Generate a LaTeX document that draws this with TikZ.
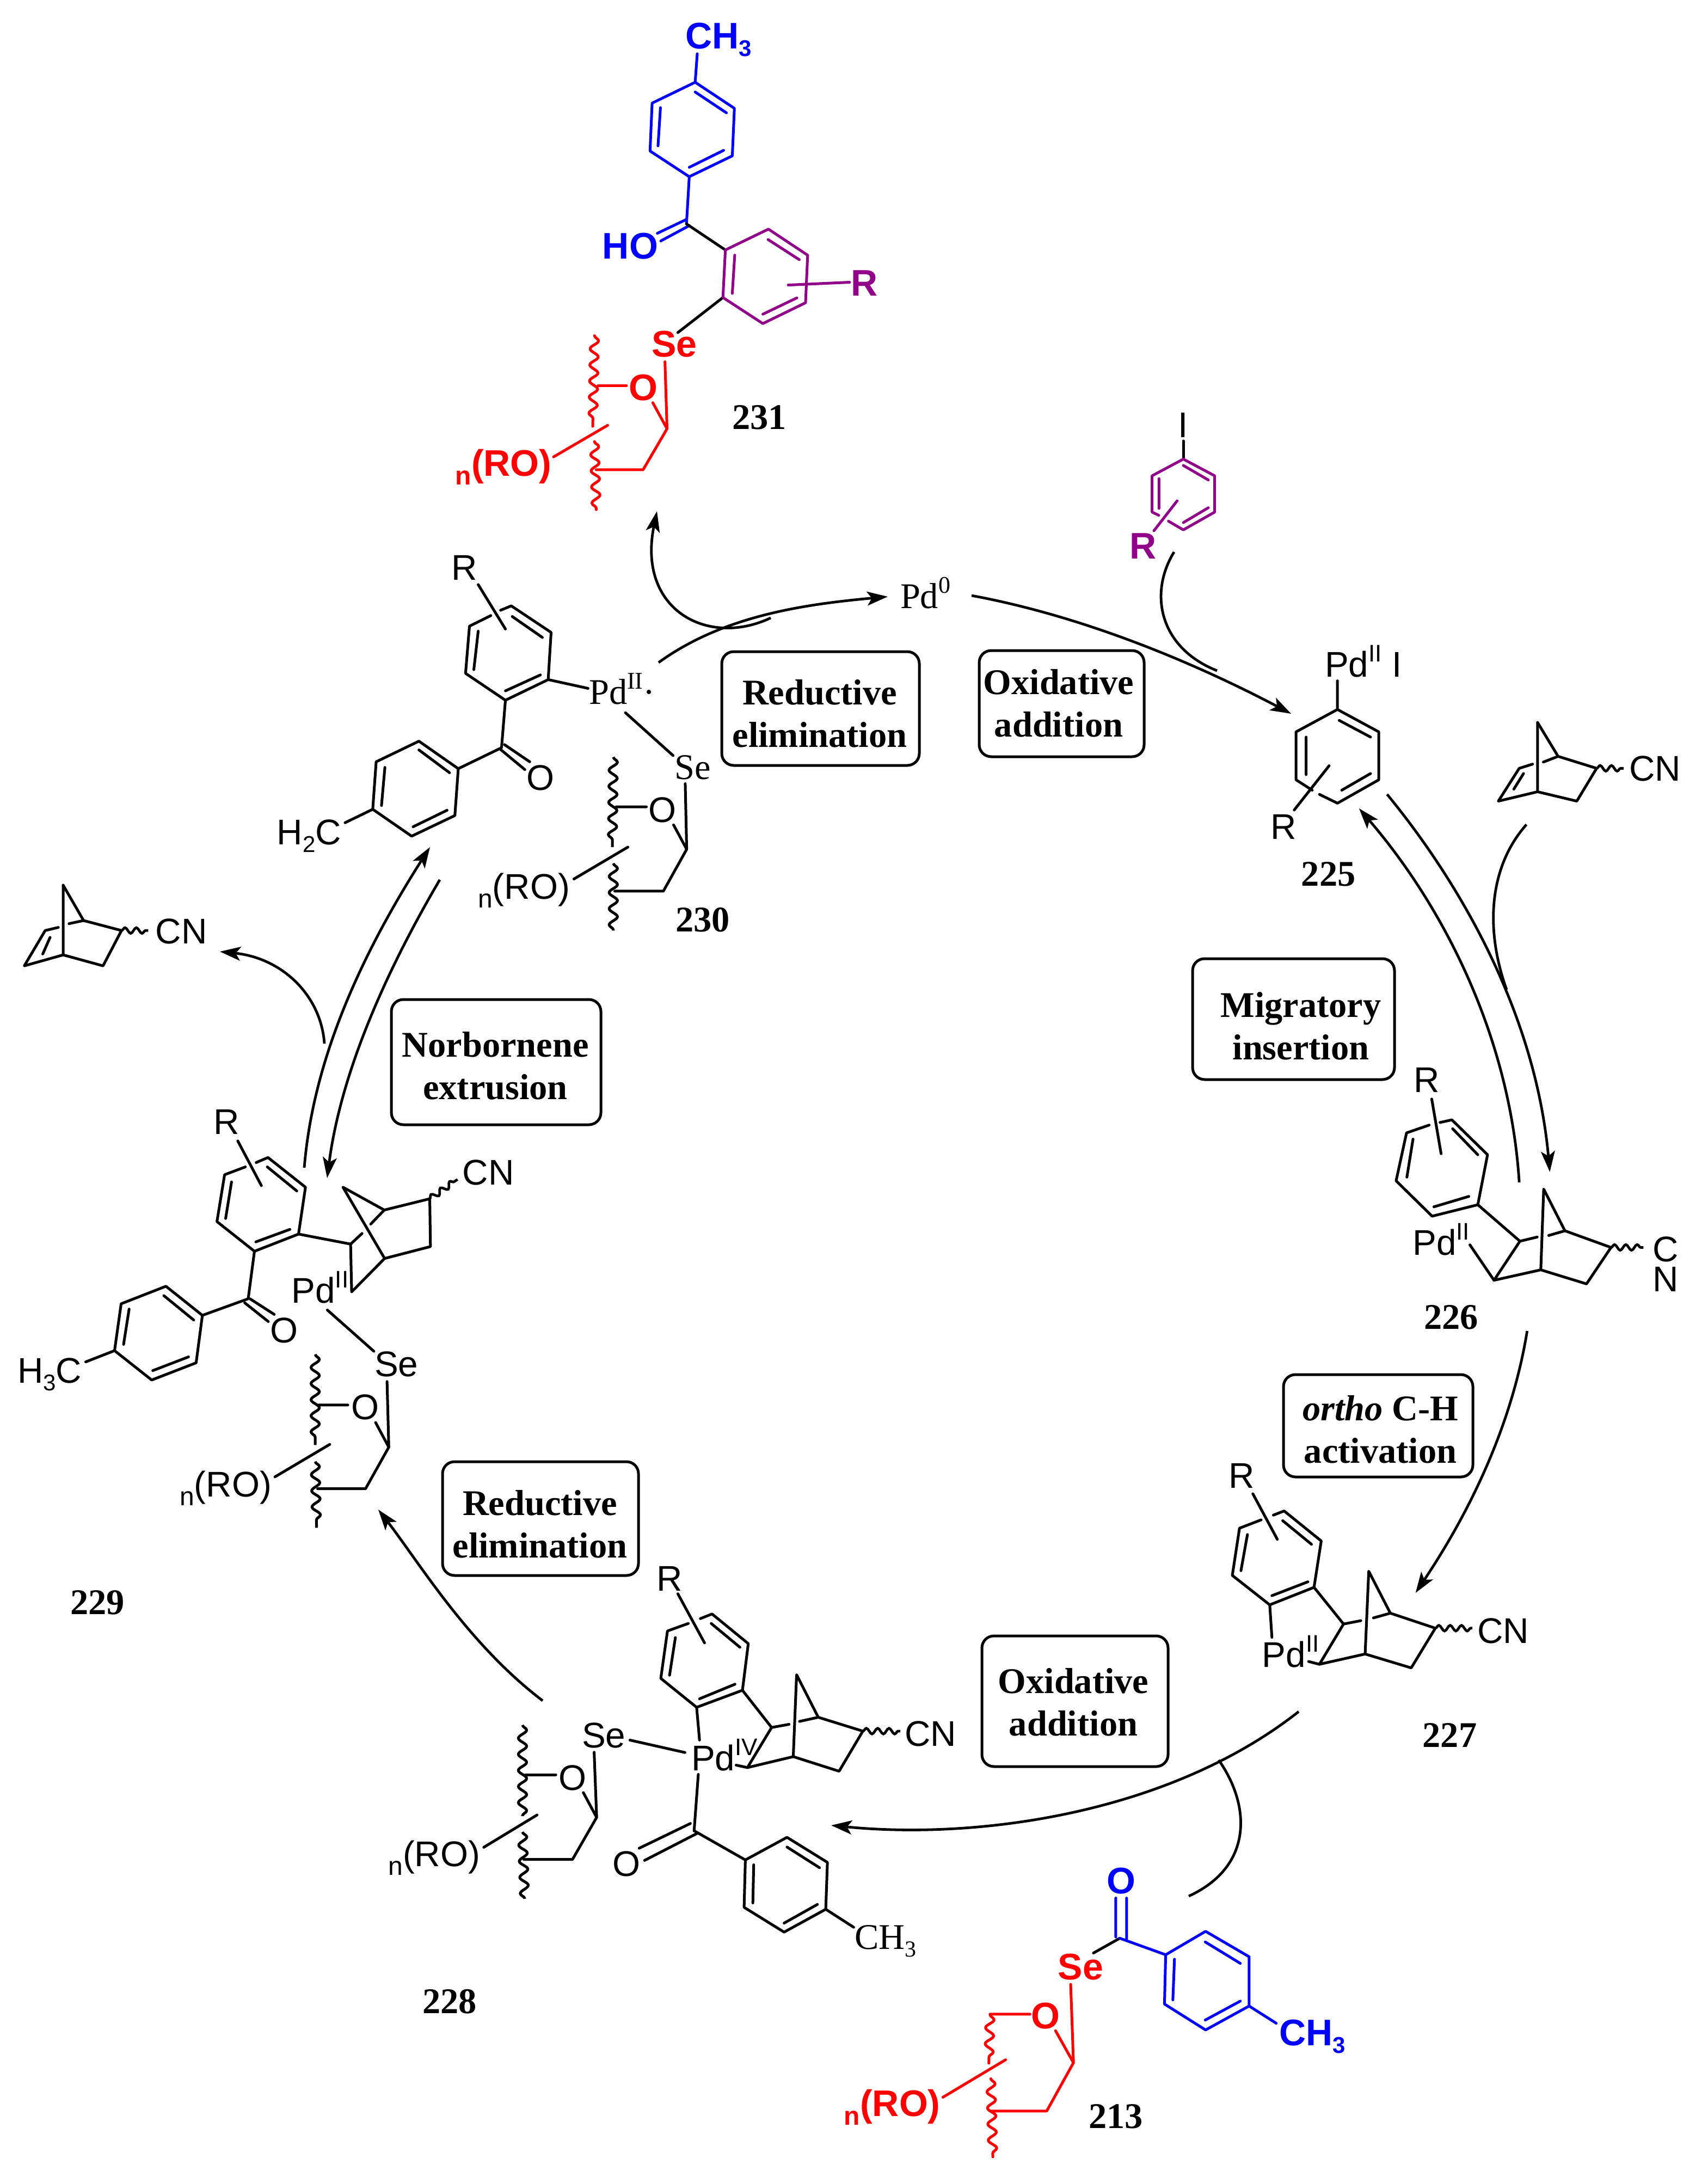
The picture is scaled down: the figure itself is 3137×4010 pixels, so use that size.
\documentclass[tikz,border=0pt]{standalone}
\usepackage{fontspec}
\setmainfont{Liberation Serif}
\setsansfont{Liberation Sans}
\usetikzlibrary{arrows.meta,decorations.pathmorphing}
\definecolor{cblue}{RGB}{0,0,255}
\definecolor{cred}{RGB}{255,0,0}
\definecolor{cpurple}{RGB}{144,0,136}
\newcommand\sbs[1]{\raisebox{-3.6pt}{\fontsize{10.5}{10.5}\selectfont #1}}
\newcommand\sps[1]{\raisebox{7pt}{\fontsize{11}{11}\selectfont #1}}
\newcommand\nRO{\raisebox{-4pt}{\fontsize{12}{12}\selectfont n}(RO)}
\tikzset{
 bond/.style={line width=1.25pt,line join=round,line cap=round},
 wavyL/.style={line width=1.25pt,decorate,decoration={snake,segment length=7.4pt,amplitude=1.9pt}},
 wavyS/.style={line width=1.2pt,decorate,decoration={snake,segment length=5.2pt,amplitude=1.3pt}},
 atom/.style={font=\sffamily\fontsize{16.4}{17}\selectfont,inner sep=0pt,text height=11.7pt,text depth=0pt},
 batom/.style={font=\sffamily\bfseries\fontsize{17}{18}\selectfont,inner sep=0pt,text height=12.1pt,text depth=0pt},
 satom/.style={font=\rmfamily\fontsize{16.6}{17}\selectfont,inner sep=0pt,text height=11pt,text depth=0pt},
 cpd/.style={font=\rmfamily\bfseries\fontsize{16.6}{18}\selectfont,inner sep=0pt,text height=11.2pt,text depth=0pt},
 steptext/.style={font=\rmfamily\bfseries\fontsize{16.6}{19.5}\selectfont,align=center,inner sep=0pt},
 stepbox/.style={line width=1.25pt,rounded corners=5.5pt},
 curve/.style={line width=1.2pt},
 arr/.style={line width=1.2pt,-{Stealth[length=9.5pt,width=6.4pt,inset=2.2pt]}},
 cropa/.style={shift={(700,0)},xscale=.63776,yscale=.63776},
 cropb/.style={shift={(0,900)},xscale=.89286,yscale=.57398},
 cropc/.style={shift={(0,2000)},xscale=.63776,yscale=.57398},
 cropd/.style={shift={(2100,1000)},xscale=.66135,yscale=.95663},
 crope/.style={shift={(2100,2500)},xscale=.66135,yscale=.5102},
 cropf/.style={shift={(650,2950)},xscale=.7653,yscale=.44643},
 cropg/.style={shift={(1450,3300)},xscale=.73342,yscale=.45281},
 croph/.style={shift={(1950,750)},xscale=.33333,yscale=.33333},
 cropi/.style={shift={(1300,1000)},xscale=.54209,yscale=.33333},
}
\begin{document}
\begin{tikzpicture}[x=0.25pt,y=-0.25pt]
\useasboundingbox (0,0) rectangle (3137,4010);

%% 231
\begin{scope}[cropa]
 \begin{scope}[cblue,bond]
 \draw (905,237)--(1018,312)--(1012,449)--(888,509)--(775,435)--(781,297)--cycle;
 \draw (905,265)--(995,325) (987,433)--(888,482) (798,420)--(805,310);
 \draw (905,237)--(911,155) (888,509)--(880,645);
 \draw (880,632)--(796,672) (888,650)--(806,694);
 \end{scope}
 \draw[bond] (880,645)--(992,720) (985,857)--(855,958);
 \begin{scope}[cpurple,bond]
 \draw (992,720)--(1116,660)--(1229,735)--(1223,872)--(1100,932)--(985,857)--cycle;
 \draw (1019,735)--(1012,845) (1115,690)--(1205,748) (1198,858)--(1100,905);
 \draw (1173,821)--(1350,813);
 \end{scope}
 \begin{scope}[cred,bond]
 \draw (818,1042)--(824,1235)--(783,1160);
 \draw (625,1111)--(707,1111);
 \draw (824,1235)--(755,1353)--(620,1353);
 \draw (497,1316)--(653,1225);
 \draw[wavyL] (615,967)--(610,1228);
 \draw[wavyL] (615,1272)--(620,1468);
 \end{scope}
 \node[batom,cblue] (a1) at (972,102) {CH\sbs{3}};
 \node[batom,cblue] (a2) at (718,708) {HO};
 \node[batom,cpurple] (a3) at (1392,814) {R};
 \node[batom,cred] (a4) at (845,990) {Se};
 \node[batom,cred] (a5) at (755,1115) {O};
 \node[batom,cred] (a6) at (353,1334) {\nRO};
 \node[cpd] (a7) at (1090,1202) {231};
\end{scope}

%% iodoarene
\begin{scope}[croph]
 \draw[bond] (672,180)--(672,280);
 \begin{scope}[cpurple,bond]
 \draw (537,590)--(500,572)--(500,372)--(672,280)--(845,372)--(845,572)--(672,670)--(590,622);
 \draw (672,315)--(810,395) (810,548)--(672,630) (538,388)--(538,552);
 \draw (510,675)--(638,510);
 \end{scope}
 \node[atom] (h1) at (672,90) {I};
 \node[batom,cpurple] (h2) at (450,758) {R};
\end{scope}

%% 230 and released norbornene
\begin{scope}[cropb]
 \draw[bond] (1030,385)--(1052,371)--(1134,456)--(1128,607)--(1040,673)--(958,587)--(966,436)--(1010,402);
 \draw[bond] (1054,405)--(1116,472) (1112,592)--(1040,643) (975,575)--(984,452);
 \draw[bond] (984,303)--(1040,445) (1128,607)--(1210,635) (1040,673)--(1032,825)--(943,892);
 \draw[bond] (1038,815)--(1090,870) (1028,828)--(1080,895);
 \draw[bond] (943,892)--(936,1042)--(847,1108)--(767,1022)--(774,870)--(862,804)--cycle;
 \draw[bond] (925,905)--(862,832) (920,1025)--(850,1078) (785,1010)--(792,888);
 \draw[bond] (767,1022)--(710,1065);
 \draw[bond] (1287,713)--(1385,850);
 \draw[bond] (1410,940)--(1413,1150)--(1386,1072) (1268,1014)--(1330,1014);
 \draw[bond] (1413,1150)--(1365,1284)--(1265,1284);
 \draw[bond] (1181,1245)--(1292,1143);
 \draw[wavyL] (1262,855)--(1260,1143);
 \draw[wavyL] (1262,1195)--(1262,1410);
 \node[atom] (b1) at (956,247) {R};
 \node[satom] (b2) at (1280,648) {Pd\sps{II}·};
 \node[atom] (b3) at (1112,920) {O};
 \node[satom] (b4) at (1425,888) {Se};
 \node[atom] (b5) at (1363,1022) {O};
 \node[atom] (b6) at (636,1094) {H\sbs{2}C};
 \node[atom] (b7) at (1078,1268) {\nRO};
 \node[cpd] (b8) at (1446,1375) {230};
 % norbornene
 \draw[bond] (130,1265)--(172,1378)--(250,1410)--(212,1523)--(130,1488)--(50,1523)--(93,1410)--(120,1400);
 \draw[bond] (130,1265)--(130,1488) (142,1388)--(172,1378) (88,1485)--(103,1432);
 \draw[wavyS] (250,1410)--(305,1410);
 \node[atom] (b9) at (373,1412) {CN};
\end{scope}

%% 229
\begin{scope}[cropc]
 \draw[bond] (738,236)--(772,220)--(880,315)--(860,465)--(733,520)--(625,425)--(647,275)--(707,250);
 \draw[bond] (770,250)--(855,327) (835,450)--(737,490) (650,415)--(667,298);
 \draw[bond] (685,167)--(753,310) (860,465)--(1010,497);
 \draw[bond] (1010,497)--(1013,650)--(1108,543)--(1240,505)--(1238,352)--(1107,388)--(988,315)--(1108,543);
 \draw[bond] (1010,497)--(1043,463) (1068,433)--(1107,388);
 \draw[wavyS] (1238,352)--(1318,290);
 \draw[bond] (733,520)--(715,672)--(583,725);
 \draw[bond] (720,672)--(790,722) (705,685)--(773,745);
 \draw[bond] (583,725)--(565,877)--(437,932)--(330,838)--(349,688)--(478,632)--cycle;
 \draw[bond] (558,740)--(472,662) (543,858)--(440,902) (356,818)--(372,705);
 \draw[bond] (330,838)--(247,874);
 \draw[bond] (943,708)--(1077,840);
 \draw[bond] (1115,937)--(1120,1147)--(1082,1068) (918,1012)--(1002,1012);
 \draw[bond] (1120,1147)--(1053,1280)--(915,1280);
 \draw[bond] (792,1242)--(950,1138);
 \draw[wavyL] (908,850)--(908,1140);
 \draw[wavyL] (908,1193)--(912,1405);
 \node[atom] (c1) at (652,105) {R};
 \node[atom] (c2) at (1407,267) {CN};
 \node[atom] (c3) at (922,645) {Pd\sps{II}};
 \node[atom] (c4) at (818,772) {O};
 \node[atom] (c5) at (143,900) {H\sbs{3}C};
 \node[atom] (c6) at (1142,880) {Se};
 \node[atom] (c7) at (1052,1018) {O};
 \node[atom] (c8) at (650,1265) {\nRO};
\end{scope}
\node[cpd] (c9) at (179,2943) {229};

%% 225, norbornene, 226
\begin{scope}[cropd]
 \draw[bond] (490,480)--(540,497)--(655,452)--(655,360)--(540,317)--(425,360)--(425,452)--(470,472);
 \draw[bond] (545,338)--(632,370) (632,440)--(552,472) (453,370)--(453,442);
 \draw[bond] (540,317)--(540,262) (420,510)--(517,425);
 \node[atom] (d1) at (612,230) {Pd\sps{II} I};
 \node[atom] (d2) at (390,542) {R};
 \node[cpd] (d3) at (515,632) {225};
 \draw[bond] (1096,342)--(1153,407)--(1260,430)--(1205,493)--(1096,475)--(987,493)--(1045,430)--(1082,422);
 \draw[bond] (1096,342)--(1096,475) (1112,418)--(1153,407) (1030,470)--(1057,440);
 \draw[wavyS] (1260,430)--(1335,430);
 \node[atom] (d4) at (1422,430) {CN};
 \draw[bond] (825,1110)--(858,1105)--(957,1172)--(930,1268)--(803,1290)--(703,1222)--(732,1130)--(795,1115);
 \draw[bond] (860,1122)--(930,1172) (905,1252)--(808,1272) (733,1215)--(750,1142);
 \draw[bond] (802,1065)--(828,1170) (930,1268)--(1047,1338);
 \draw[bond] (1047,1338)--(975,1413)--(1105,1393)--(1232,1420)--(1300,1350)--(1172,1318)--(1113,1238)--(1105,1393);
 \draw[bond] (1047,1338)--(1095,1330) (1127,1327)--(1172,1318) (908,1345)--(975,1413);
 \draw[wavyS] (1300,1350)--(1390,1350);
 \node[atom] (d5) at (788,1028) {R};
 \node[atom] (d6) at (828,1340) {Pd\sps{II}};
 \node[atom] (d7) at (1452,1353) {C};
 \node[atom] (d8) at (1452,1410) {N};
 \node[cpd] (d9) at (856,1483) {226};
\end{scope}

%% 227
\begin{scope}[crope]
 \draw[bond] (362,555)--(392,540)--(495,648)--(475,815)--(352,878)--(248,772)--(268,602)--(328,572);
 \draw[bond] (388,575)--(468,660) (458,795)--(358,845) (272,755)--(290,625);
 \draw[bond] (305,478)--(373,642) (352,878)--(358,995) (475,815)--(557,947);
 \draw[bond] (557,947)--(490,1092)--(617,1055)--(745,1105)--(812,962)--(687,908)--(627,757)--(617,1055);
 \draw[bond] (557,947)--(605,935) (640,925)--(687,908) (460,1082)--(490,1092);
 \draw[wavyS] (812,962)--(915,962);
 \node[atom] (e1) at (274,412) {R};
 \node[atom] (e2) at (410,1056) {Pd\sps{II}};
 \node[atom] (e3) at (1000,970) {CN};
 \node[cpd] (e4) at (852,1347) {227};
\end{scope}

%% 228
\begin{scope}[cropf]
 \draw[bond] (832,52)--(860,33)--(947,155)--(933,347)--(823,417)--(737,298)--(753,103)--(803,72);
 \draw[bond] (858,72)--(927,170) (915,322)--(830,382) (758,285)--(772,130);
 \draw[bond] (778,-50)--(842,152) (823,417)--(830,552) (933,347)--(1003,500);
 \draw[bond] (1003,500)--(945,665)--(1055,620)--(1165,680)--(1222,515)--(1115,458)--(1063,283)--(1055,620);
 \draw[bond] (1003,500)--(1045,487) (1070,475)--(1115,458) (918,655)--(945,665);
 \draw[wavyS] (1222,515)--(1312,515);
 \draw[bond] (663,552)--(795,603) (827,693)--(817,925);
 \draw[bond] (808,895)--(685,997) (825,935)--(698,1047) (817,925)--(940,1045);
 \draw[bond] (940,1045)--(1040,952)--(1137,1055)--(1133,1248)--(1033,1342)--(937,1240)--cycle;
 \draw[bond] (1040,992)--(1118,1077) (1113,1228)--(1033,1305) (958,1222)--(960,1065);
 \draw[bond] (1133,1248)--(1200,1322);
 \draw[bond] (577,602)--(583,870)--(551,768) (412,695)--(485,695);
 \draw[bond] (583,870)--(525,1043)--(408,1043) (312,993)--(440,860);
 \draw[wavyL] (405,490)--(405,865);
 \draw[wavyL] (405,930)--(410,1205);
 \node[atom] (f1) at (758,-114) {R};
 \node[atom] (f2) at (600,530) {Se};
 \node[atom] (f3) at (890,626) {Pd\sps{IV}};
 \node[atom] (f4) at (1385,525) {CN};
 \node[atom] (f5) at (525,705) {O};
 \node[atom] (f6) at (655,1060) {O};
 \node[atom] (f7) at (193,1020) {\nRO};
 \node[satom] (f8) at (1277,1363) {CH\sbs{3}};
\end{scope}
\node[cpd] (f9) at (826,3676) {228};

%% 213
\begin{scope}[cropg]
 \draw[bond] (762,635)--(828,575);
 \begin{scope}[cblue,bond]
 \draw (818,570)--(818,412) (845,578)--(845,412) (828,575)--(943,642);
 \draw (943,642)--(1043,547)--(1152,650)--(1152,850)--(1043,947)--(940,842)--cycle;
 \draw (1042,590)--(1130,677) (1130,830)--(1042,907) (961,825)--(965,660);
 \draw (1152,850)--(1220,920);
 \end{scope}
 \begin{scope}[cred,bond]
 \draw (705,762)--(712,1080)--(667,950) (503,883)--(603,883);
 \draw (712,1080)--(645,1276)--(505,1276) (385,1220)--(542,1068);
 \draw[wavyL] (503,885)--(500,1082);
 \draw[wavyL] (505,1145)--(510,1462);
 \end{scope}
 \node[batom,cblue] (g1) at (831,340) {O};
 \node[batom,cblue] (g2) at (1310,956) {CH\sbs{3}};
 \node[batom,cred] (g3) at (730,690) {Se};
 \node[batom,cred] (g4) at (642,888) {O};
 \node[batom,cred] (g5) at (258,1245) {\nRO};
 \node[cpd] (g6) at (818,1297) {213};
\end{scope}

\begin{scope}[cropi]
 \node[satom] (pd0) at (738,287) {Pd\sps{0}};
\end{scope}

%% step boxes
\draw[stepbox] (1326,1197) rectangle (1689,1406);
\node[steptext] (s1) at (1506,1311) {Reductive\\elimination};
\draw[stepbox] (1799,1195) rectangle (2102,1390);
\node[steptext] (s2) at (1945,1292) {Oxidative\\addition};
\draw[stepbox] (2191,1761) rectangle (2562,1983);
\node[steptext] (s3) at (2390,1885) {Migratory\\insertion};
\draw[stepbox] (719,1836) rectangle (1104,2066);
\node[steptext] (s4) at (910,1958) {Norbornene\\extrusion};
\draw[stepbox] (2358,2525) rectangle (2706,2713);
\node[steptext] (s5) at (2536,2626) {\textit{ortho} C-H\\activation};
\draw[stepbox] (813,2685) rectangle (1173,2894);
\node[steptext] (s6) at (992,2800) {Reductive\\elimination};
\draw[stepbox] (1804,3005) rectangle (2146,3245);
\node[steptext] (s7) at (1972,3127) {Oxidative\\addition};

%% arrows
\coordinate (Aa) at (1210,1217); \coordinate (Ab) at (1631,1096);
\draw[arr] (Aa) .. controls (1330,1130) and (1480,1110) .. (Ab);
\coordinate (Ba) at (1416,1135); \coordinate (Bb) at (1207,939);
\draw[arr] (Ba) .. controls (1300,1190) and (1170,1120) .. (Bb);
\coordinate (Ca) at (1785,1094); \coordinate (Cb) at (2372,1311);
\draw[arr] (Ca) .. controls (1980,1130) and (2180,1210) .. (Cb);
\coordinate (Da) at (2157,1014); \coordinate (Db) at (2236,1232);
\draw[curve] (Da) .. controls (2110,1090) and (2130,1190) .. (Db);
\begin{scope}[cropd]
 \coordinate (Ea) at (678,480); \coordinate (Eb) at (1130,1205);
 \draw[arr] (Ea) .. controls (880,650) and (1090,900) .. (Eb);
 \coordinate (Fa) at (1045,1225); \coordinate (Fb) at (600,507);
 \draw[arr] (Fa) .. controls (1020,950) and (840,700) .. (Fb);
 \coordinate (Ga) at (1065,538); \coordinate (Gb) at (1010,855);
 \draw[curve] (Ga) .. controls (960,620) and (950,740) .. (Gb);
\end{scope}
\begin{scope}[crope]
 \coordinate (Ha) at (1067,-108); \coordinate (Hb) at (757,835);
 \draw[arr] (Ha) .. controls (1030,190) and (930,500) .. (Hb);
\end{scope}
\coordinate (Ia) at (2386,3144); \coordinate (Ib) at (1527,3353);
\draw[arr] (Ia) .. controls (2150,3330) and (1800,3380) .. (Ib);
\coordinate (Ja) at (2239,3233); \coordinate (Jb) at (2184,3483);
\draw[curve] (Ja) .. controls (2300,3320) and (2300,3430) .. (Jb);
\coordinate (Ka) at (997,3124); \coordinate (Kb) at (695,2773);
\draw[arr] (Ka) .. controls (860,3020) and (770,2870) .. (Kb);
\coordinate (La) at (559,2145); \coordinate (Lb) at (790,1556);
\draw[arr] (La) .. controls (575,1950) and (660,1760) .. (Lb);
\coordinate (Ma) at (808,1616); \coordinate (Mb) at (601,2164);
\draw[arr] (Ma) .. controls (700,1800) and (625,1980) .. (Mb);
\coordinate (Na) at (596,1917); \coordinate (Nb) at (404,1748);
\draw[arr] (Na) .. controls (590,1830) and (520,1760) .. (Nb);
\end{tikzpicture}
\end{document}
